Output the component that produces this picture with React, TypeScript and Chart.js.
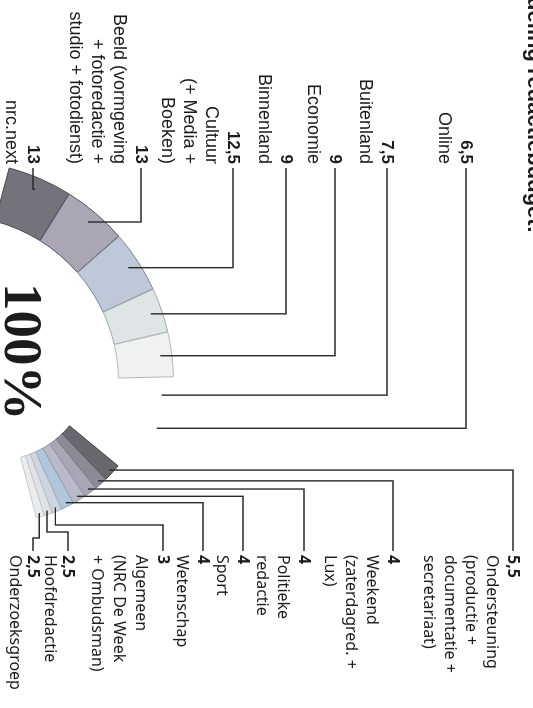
import React, { useEffect, useRef } from 'react';
import { Chart, registerables } from 'chart.js';

Chart.register(...registerables);

// ---------------- data ----------------
const titleText = 'Verdeling redactiebudget:';
const totalText = '100%';

const bigCategories = ['nrc.next', 'Beeld', 'Cultuur', 'Binnenland', 'Economie', 'Buitenland', 'Online'];
const bigLabelLines = [
  ['nrc.next'],
  ['Beeld (vormgeving', '+ fotoredactie +', 'studio + fotodienst)'],
  ['Cultuur', '(+ Media +', 'Boeken)'],
  ['Binnenland'],
  ['Economie'],
  ['Buitenland'],
  ['Online'],
];
const bigValues = [13, 13, 12.5, 9, 9, 7.5, 6.5];

const smallCategories = ['Ondersteuning', 'Weekend', 'Politieke redactie', 'Sport', 'Wetenschap', 'Algemeen', 'Hoofdredactie', 'Onderzoeksgroep'];
const smallLabelLines = [
  ['Ondersteuning', '(productie +', 'documentatie +', 'secretariaat)'],
  ['Weekend', '(zaterdagred. +', 'Lux)'],
  ['Politieke', 'redactie'],
  ['Sport'],
  ['Wetenschap'],
  ['Algemeen', '(NRC De Week', '+ Ombudsman)'],
  ['Hoofdredactie'],
  ['Onderzoeksgroep'],
];
const smallValues = [5.5, 4, 4, 4, 4, 3, 2.5, 2.5];

// ---------------- styles ----------------
const bigColors = ['#75727c', '#aaa6b6', '#bfc8d8', '#dfe4e6', '#f0f2f1', 'rgba(255,255,255,0)', 'rgba(255,255,255,0)'];
const bigBorders = ['#4a484f', '#55535c', '#7d8490', '#a3a8ab', '#b5b8b8', 'rgba(0,0,0,0)', 'rgba(0,0,0,0)'];
const smallColors = ['#69686f', '#8c8a95', '#a8a6b4', '#bab9c9', '#b1c6da', '#cfd5de', '#dfe2e6', '#ebecee'];
const smallBorders = ['#45444b', '#67656f', '#85838f', '#9896a5', '#8fa3b6', '#aab0b8', '#bdc0c4', '#c8cacc'];
const textColor = '#1c1c1c';
const lineColor = '#2a2a2a';

// ---------------- layout (unrotated frame, px) ----------------
const W = 708;
const H = 533;
const BIG = { cx: 382, cy: 581, outer: 220, inner: 165, rotation: -75.1, degPerUnit: 1.306, spacing: 3, leaderInset: 10 };
const SMALL = { cx: 366, cy: 536, outer: 156, inner: 93, rotation: 39.5, degPerUnit: 1.22, spacing: 2, leaderInset: 3 };
const bigLabelRight = 164;
const bigLabelLevels = [500, 392, 300, 247, 198, 146, 67];
const smallLabelLeft = 555;
const smallLabelLevels = [20, 140, 229, 290, 330, 370, 465, 500];
const smallLineH = [21, 21, 21, 21, 21, 22, 18, 18];
const smallJogs: (number | null)[] = [null, null, null, null, null, 525, 532, 538];
const lineH = 22;

const fmt = (v: number) => String(v).replace('.', ',');

function ratioOffset(rotationDeg: number, circDeg: number, cutout: number) {
  const TAU = Math.PI * 2;
  const start = ((rotationDeg - 90) * Math.PI) / 180;
  const span = (circDeg * Math.PI) / 180;
  const norm = (a: number) => ((a % TAU) + TAU) % TAU;
  const inRange = (a: number) => norm(a - start) <= span;
  const sx = Math.cos(start), sy = Math.sin(start);
  const ex = Math.cos(start + span), ey = Math.sin(start + span);
  const cmax = (a: number, p: number, q: number) => (inRange(a) ? 1 : Math.max(p, p * cutout, q, q * cutout));
  const cmin = (a: number, p: number, q: number) => (inRange(a) ? -1 : Math.min(p, p * cutout, q, q * cutout));
  const maxX = cmax(0, sx, ex);
  const maxY = cmax(Math.PI / 2, sy, ey);
  const minX = cmin(Math.PI, sx, ex);
  const minY = cmin(Math.PI * 1.5, sy, ey);
  return { offX: -(maxX + minX) / 2, offY: -(maxY + minY) / 2 };
}

function padFromMid(mx: number, my: number) {
  return {
    left: mx > W / 2 ? 2 * mx - W : 0,
    right: mx > W / 2 ? 0 : W - 2 * mx,
    top: my > H / 2 ? 2 * my - H : 0,
    bottom: my > H / 2 ? 0 : H - 2 * my,
  };
}

function makeChart(canvas: HTMLCanvasElement, geo: any, labels: string[], values: number[], colors: string[], borders: string[], plugin: any) {
  const sum = values.reduce((a, b) => a + b, 0);
  const circ = sum * geo.degPerUnit;
  const cutout = geo.inner / geo.outer;
  const { offX, offY } = ratioOffset(geo.rotation, circ, cutout);
  let mx = geo.cx - offX * geo.outer;
  let my = geo.cy - offY * geo.outer;
  const chart = new Chart(canvas, {
    type: 'doughnut',
    data: {
      labels,
      datasets: [
        {
          data: values,
          backgroundColor: colors,
          borderColor: borders,
          borderWidth: 1,
          spacing: geo.spacing,
          clip: false,
        } as any,
      ],
    },
    options: {
      responsive: false,
      devicePixelRatio: 1,
      animation: false,
      events: [],
      rotation: geo.rotation,
      circumference: circ,
      radius: geo.outer,
      cutout: cutout * 100 + '%',
      layout: { padding: padFromMid(mx, my) },
      plugins: { legend: { display: false }, tooltip: { enabled: false } },
    } as any,
    plugins: [plugin],
  });
  for (let k = 0; k < 3; k++) {
    const el: any = chart.getDatasetMeta(0).data[0];
    if (!el) break;
    const dx = el.x - geo.cx;
    const dy = el.y - geo.cy;
    if (Math.abs(dx) < 0.3 && Math.abs(dy) < 0.3) break;
    mx -= dx;
    my -= dy;
    (chart.options as any).layout.padding = padFromMid(mx, my);
    chart.update('none');
  }
  return chart;
}

function leaderPoint(el: any, inset: number) {
  const p = el.getProps(['x', 'y', 'startAngle', 'endAngle', 'outerRadius'], true);
  const mid = (p.startAngle + p.endAngle) / 2;
  const r = p.outerRadius - inset;
  return { x: p.x + r * Math.cos(mid), y: p.y + r * Math.sin(mid) };
}

const bigPlugin = {
  id: 'bigLabels',
  afterDatasetsDraw(chart: any) {
    const ctx = chart.ctx as CanvasRenderingContext2D;
    const meta = chart.getDatasetMeta(0);
    ctx.save();
    ctx.strokeStyle = lineColor;
    ctx.lineWidth = 1.4;
    meta.data.forEach((el: any, i: number) => {
      const p = leaderPoint(el, BIG.leaderInset);
      const lv = bigLabelLevels[i];
      ctx.beginPath();
      ctx.moveTo(bigLabelRight + 4, lv);
      ctx.lineTo(p.x, lv);
      ctx.lineTo(p.x, p.y);
      ctx.stroke();
    });
    ctx.fillStyle = textColor;
    ctx.textAlign = 'right';
    ctx.textBaseline = 'middle';
    bigValues.forEach((v, i) => {
      const lv = bigLabelLevels[i];
      ctx.font = 'bold 17px "Liberation Sans", Arial, sans-serif';
      ctx.fillText(fmt(v), bigLabelRight, lv);
      ctx.font = '18px "Liberation Sans", Arial, sans-serif';
      bigLabelLines[i].forEach((t, j) => ctx.fillText(t, bigLabelRight, lv + (j + 1) * lineH));
    });
    ctx.textBaseline = 'alphabetic';
    ctx.textAlign = 'left';
    ctx.font = 'bold 55px "Liberation Serif", serif';
    ctx.fillText(totalText, 283, 528);
    ctx.textAlign = 'right';
    ctx.font = 'bold 22px "Liberation Sans", Arial, sans-serif';
    ctx.fillText(titleText, 233, 5);
    ctx.restore();
  },
};

const smallPlugin = {
  id: 'smallLabels',
  afterDatasetsDraw(chart: any) {
    const ctx = chart.ctx as CanvasRenderingContext2D;
    const meta = chart.getDatasetMeta(0);
    ctx.save();
    ctx.strokeStyle = lineColor;
    ctx.lineWidth = 1.4;
    meta.data.forEach((el: any, i: number) => {
      const p = leaderPoint(el, SMALL.leaderInset);
      const lv = smallLabelLevels[i];
      const jog = smallJogs[i];
      ctx.beginPath();
      ctx.moveTo(p.x, p.y);
      if (jog != null) {
        ctx.lineTo(jog, p.y);
        ctx.lineTo(jog, lv);
      } else {
        ctx.lineTo(p.x, lv);
      }
      ctx.lineTo(smallLabelLeft - 4, lv);
      ctx.stroke();
    });
    ctx.fillStyle = textColor;
    ctx.textAlign = 'left';
    ctx.textBaseline = 'middle';
    smallValues.forEach((v, i) => {
      const lv = smallLabelLevels[i];
      ctx.font = 'bold 16px "Noto Sans", sans-serif';
      ctx.fillText(fmt(v), smallLabelLeft, lv);
      ctx.font = '16px "Noto Sans", sans-serif';
      smallLabelLines[i].forEach((t, j) => ctx.fillText(t, smallLabelLeft, lv + (j + 1) * smallLineH[i]));
    });
    ctx.restore();
  },
};

export default function App() {
  const bigRef = useRef<HTMLCanvasElement>(null);
  const smallRef = useRef<HTMLCanvasElement>(null);

  useEffect(() => {
    if (!bigRef.current || !smallRef.current) return;
    const c1 = makeChart(bigRef.current, BIG, bigCategories, bigValues, bigColors, bigBorders, bigPlugin);
    const c2 = makeChart(smallRef.current, SMALL, smallCategories, smallValues, smallColors, smallBorders, smallPlugin);
    return () => {
      c1.destroy();
      c2.destroy();
    };
  }, []);

  return (
    <div
      style={{
        position: 'fixed',
        left: 0,
        top: 0,
        width: W,
        height: H,
        background: '#ffffff',
        transformOrigin: '0 0',
        transform: `translateX(${H}px) rotate(90deg)`,
        overflow: 'hidden',
      }}
    >
      <canvas ref={bigRef} width={W} height={H} style={{ position: 'absolute', left: 0, top: 0, width: W, height: H }} />
      <canvas ref={smallRef} width={W} height={H} style={{ position: 'absolute', left: 0, top: 0, width: W, height: H }} />
    </div>
  );
}
